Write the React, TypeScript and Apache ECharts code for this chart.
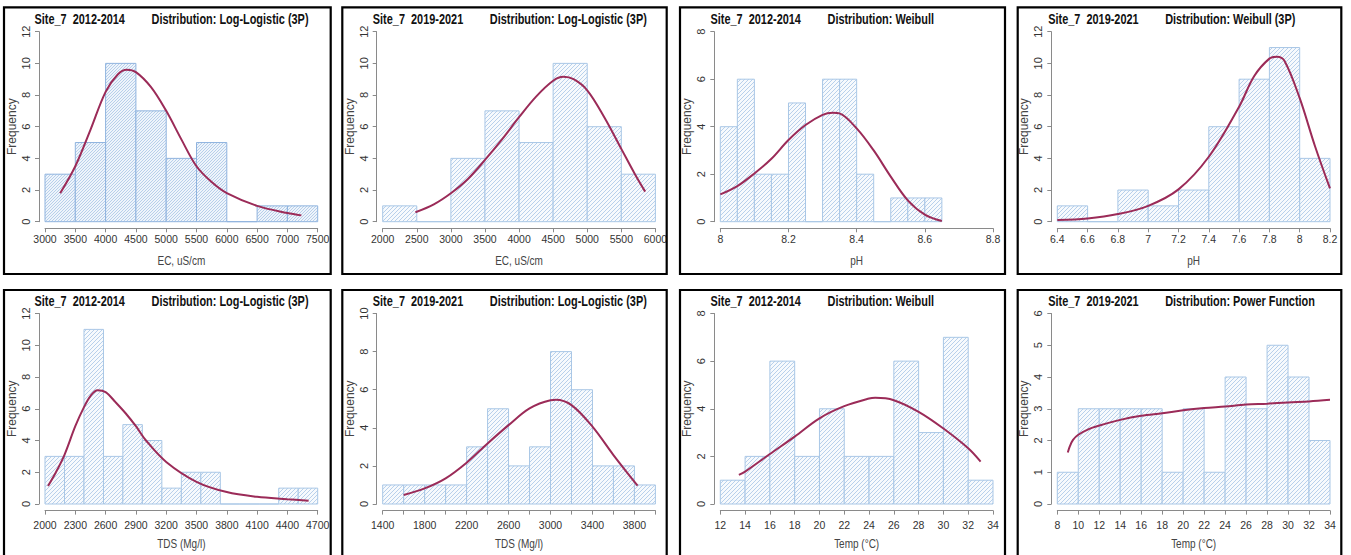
import React, { useEffect, useRef } from "react";
import * as echarts from "echarts";

const SANS = "'Liberation Sans', Arial, Helvetica, sans-serif";

// ---------- titles ----------
const siteLabels = ["Site_7  2012-2014", "Site_7  2019-2021", "Site_7  2012-2014", "Site_7  2019-2021",
  "Site_7  2012-2014", "Site_7  2019-2021", "Site_7  2012-2014", "Site_7  2019-2021"];
const distLabels = ["Distribution: Log-Logistic (3P)", "Distribution: Log-Logistic (3P)", "Distribution: Weibull",
  "Distribution: Weibull (3P)", "Distribution: Log-Logistic (3P)", "Distribution: Log-Logistic (3P)",
  "Distribution: Weibull", "Distribution: Power Function"];
const xNames = ["EC, uS/cm", "EC, uS/cm", "pH", "pH", "TDS (Mg/l)", "TDS (Mg/l)", "Temp (°C)", "Temp (°C)"];
const yName = "Frequency";

// ---------- panel 1: EC 2012-2014 ----------
const p1Edges = [3000, 3500, 4000, 4500, 5000, 5500, 6000, 6500, 7000, 7500];
const p1Counts = [3, 5, 10, 7, 4, 5, 0, 1, 1];
const p1CurveX = [3250, 3500, 3750, 4000, 4200, 4350, 4500, 4750, 5000, 5250, 5500, 5750, 6000, 6500, 7000, 7230];
const p1CurveY = [1.8, 3.5, 5.8, 8.2, 9.3, 9.6, 9.45, 8.5, 7.0, 5.2, 3.5, 2.5, 1.8, 1.0, 0.55, 0.4];
const p1XTicks = [3000, 3500, 4000, 4500, 5000, 5500, 6000, 6500, 7000, 7500];
const p1YTicks = [0, 2, 4, 6, 8, 10, 12];

// ---------- panel 2: EC 2019-2021 ----------
const p2Edges = [2000, 2500, 3000, 3500, 4000, 4500, 5000, 5500, 6000];
const p2Counts = [1, 0, 4, 7, 5, 10, 6, 3];
const p2CurveX = [2480, 2750, 3000, 3250, 3500, 3750, 4000, 4250, 4500, 4650, 4800, 5000, 5250, 5500, 5700, 5850];
const p2CurveY = [0.6, 1.1, 1.8, 2.7, 3.9, 5.2, 6.6, 7.9, 8.9, 9.15, 9.0, 8.3, 6.6, 4.6, 3.0, 1.9];
const p2XTicks = [2000, 2500, 3000, 3500, 4000, 4500, 5000, 5500, 6000];
const p2YTicks = [0, 2, 4, 6, 8, 10, 12];

// ---------- panel 3: pH 2012-2014 ----------
const p3Edges = [8.0, 8.05, 8.1, 8.15, 8.2, 8.25, 8.3, 8.35, 8.4, 8.45, 8.5, 8.55, 8.6, 8.65];
const p3Counts = [4, 6, 2, 2, 5, 0, 6, 6, 2, 0, 1, 1, 1];
const p3CurveX = [8.0, 8.05, 8.1, 8.15, 8.2, 8.25, 8.3, 8.33, 8.35, 8.4, 8.45, 8.5, 8.55, 8.6, 8.65];
const p3CurveY = [1.15, 1.5, 2.03, 2.65, 3.44, 4.07, 4.5, 4.59, 4.56, 3.93, 3.0, 1.9, 0.9, 0.3, 0.03];
const p3XTicks = [8, 8.2, 8.4, 8.6, 8.8];
const p3YTicks = [0, 2, 4, 6, 8];

// ---------- panel 4: pH 2019-2021 ----------
const p4Edges = [6.4, 6.6, 6.8, 7.0, 7.2, 7.4, 7.6, 7.8, 8.0, 8.2];
const p4Counts = [1, 0, 2, 1, 2, 6, 9, 11, 4];
const p4CurveX = [6.4, 6.6, 6.8, 7.0, 7.2, 7.4, 7.6, 7.7, 7.8, 7.85, 7.9, 8.0, 8.1, 8.2];
const p4CurveY = [0.1, 0.2, 0.48, 1.0, 2.04, 4.1, 7.26, 9.2, 10.3, 10.42, 10.15, 7.8, 4.8, 2.1];
const p4XTicks = [6.4, 6.6, 6.8, 7.0, 7.2, 7.4, 7.6, 7.8, 8.0, 8.2];
const p4YTicks = [0, 2, 4, 6, 8, 10, 12];

// ---------- panel 5: TDS 2012-2014 ----------
const p5Edges = [2000, 2193, 2386, 2579, 2771, 2964, 3157, 3350, 3543, 3736, 3929, 4121, 4314, 4507, 4700];
const p5Counts = [3, 3, 11, 3, 5, 4, 1, 2, 2, 0, 0, 0, 1, 1];
const p5CurveX = [2030, 2100, 2193, 2300, 2386, 2450, 2520, 2600, 2700, 2800, 2900, 3000, 3200, 3500, 3800, 4100, 4400, 4610];
const p5CurveY = [1.13, 1.9, 3.1, 4.9, 6.1, 6.8, 7.17, 7.05, 6.4, 5.7, 4.9, 4.0, 2.65, 1.4, 0.75, 0.45, 0.3, 0.2];
const p5XTicks = [2000, 2300, 2600, 2900, 3200, 3500, 3800, 4100, 4400, 4700];
const p5YTicks = [0, 2, 4, 6, 8, 10, 12];

// ---------- panel 6: TDS 2019-2021 ----------
const p6Edges = [1400, 1600, 1800, 2000, 2200, 2400, 2600, 2800, 3000, 3200, 3400, 3600, 3800, 4000];
const p6Counts = [1, 1, 1, 1, 3, 5, 2, 3, 8, 6, 2, 2, 1];
const p6CurveX = [1600, 1800, 2000, 2200, 2400, 2600, 2800, 3000, 3050, 3200, 3400, 3600, 3830];
const p6CurveY = [0.47, 0.82, 1.35, 2.17, 3.18, 4.14, 5.02, 5.45, 5.47, 5.19, 4.06, 2.57, 0.96];
const p6XTicks = [1400, 1600, 1800, 2000, 2200, 2400, 2600, 2800, 3000, 3200, 3400, 3600, 3800, 4000];
const p6XLabels = [1400, 1800, 2200, 2600, 3000, 3400, 3800];
const p6YTicks = [0, 2, 4, 6, 8, 10];

// ---------- panel 7: Temp 2012-2014 ----------
const p7Edges = [12, 14, 16, 18, 20, 22, 24, 26, 28, 30, 32, 34];
const p7Counts = [1, 2, 6, 2, 4, 2, 2, 6, 3, 7, 1];
const p7CurveX = [13.5, 14, 16, 18, 20, 22, 24, 24.5, 26, 28, 30, 32, 33];
const p7CurveY = [1.22, 1.36, 2.1, 2.83, 3.6, 4.11, 4.43, 4.46, 4.36, 3.87, 3.17, 2.34, 1.78];
const p7XTicks = [12, 14, 16, 18, 20, 22, 24, 26, 28, 30, 32, 34];
const p7YTicks = [0, 2, 4, 6, 8];

// ---------- panel 8: Temp 2019-2021 ----------
const p8Edges = [8, 10, 12, 14, 16, 18, 20, 22, 24, 26, 28, 30, 32, 34];
const p8Counts = [1, 3, 3, 3, 3, 1, 3, 1, 4, 3, 5, 4, 2];
const p8CurveX = [9.0, 9.2, 9.5, 10, 11, 12, 14, 16, 18, 20, 22, 24, 26, 28, 30, 32, 34];
const p8CurveY = [1.62, 1.82, 2.02, 2.18, 2.36, 2.47, 2.65, 2.78, 2.86, 2.95, 3.02, 3.07, 3.13, 3.16, 3.2, 3.23, 3.28];
const p8XTicks = [8, 10, 12, 14, 16, 18, 20, 22, 24, 26, 28, 30, 32, 34];
const p8YTicks = [0, 1, 2, 3, 4, 5, 6];

const panels = [
  { edges: p1Edges, counts: p1Counts, cx: p1CurveX, cy: p1CurveY, xt: p1XTicks, xl: p1XTicks, yt: p1YTicks },
  { edges: p2Edges, counts: p2Counts, cx: p2CurveX, cy: p2CurveY, xt: p2XTicks, xl: p2XTicks, yt: p2YTicks },
  { edges: p3Edges, counts: p3Counts, cx: p3CurveX, cy: p3CurveY, xt: p3XTicks, xl: p3XTicks, yt: p3YTicks },
  { edges: p4Edges, counts: p4Counts, cx: p4CurveX, cy: p4CurveY, xt: p4XTicks, xl: p4XTicks, yt: p4YTicks },
  { edges: p5Edges, counts: p5Counts, cx: p5CurveX, cy: p5CurveY, xt: p5XTicks, xl: p5XTicks, yt: p5YTicks },
  { edges: p6Edges, counts: p6Counts, cx: p6CurveX, cy: p6CurveY, xt: p6XTicks, xl: p6XLabels, yt: p6YTicks },
  { edges: p7Edges, counts: p7Counts, cx: p7CurveX, cy: p7CurveY, xt: p7XTicks, xl: p7XTicks, yt: p7YTicks },
  { edges: p8Edges, counts: p8Counts, cx: p8CurveX, cy: p8CurveY, xt: p8XTicks, xl: p8XTicks, yt: p8YTicks },
];

// ---------- layout ----------
const frameLefts = [4, 342.3, 680, 1017.7];
const frameRights = [330.7, 666.7, 1005, 1341.3];
const frameTops = [7.3, 290];
const frameBottoms = [274, 600];
const gridLefts = [45, 382.7, 720.3, 1057.3];
const gridTops = [31.7, 313.5];
const gridH = [190, 190.5];
const gridW = 272.7;
const xNameY = [260.5, 544];
const titleY = [20, 301.5];
const SQUEEZE = 0.78;

const CURVE = "#9b2b58";
const EDGE = "#a9c7e6";

function hatch(size: number, color: string, bg: string, w: number) {
  const s = size;
  const svg = `<svg xmlns='http://www.w3.org/2000/svg' width='${s}' height='${s}'><rect width='${s}' height='${s}' fill='${bg}'/><path d='M0 ${s} L${s} 0 M-1 1 L1 -1 M${s - 1} ${s + 1} L${s + 1} ${s - 1}' stroke='${color}' stroke-width='${w}'/></svg>`;
  return {
    image: "data:image/svg+xml;charset=utf-8," + encodeURIComponent(svg),
    repeat: "repeat",
    imageWidth: s,
    imageHeight: s,
  } as any;
}

export default function App() {
  const ref = useRef<HTMLDivElement>(null);
  useEffect(() => {
    if (!ref.current) return;
    const chart = echarts.init(ref.current, null, { renderer: "svg" });
    const pat = hatch(4, "#a8c5e6", "#f7fafd", 0.8);
    const patDense = hatch(3, "#9fbfe3", "#eef4fb", 0.7);

    const grid: any[] = [];
    const xAxis: any[] = [];
    const yAxis: any[] = [];
    const series: any[] = [];
    const graphic: any[] = [];

    panels.forEach((p, i) => {
      const row = i < 4 ? 0 : 1;
      const col = i % 4;
      grid.push({
        left: gridLefts[col],
        top: gridTops[row],
        width: gridW,
        height: gridH[row],
        containLabel: false,
        outerBoundsMode: "none",
      });
      xAxis.push({
        type: "value",
        gridIndex: i,
        min: p.xt[0],
        max: p.xt[p.xt.length - 1],
        offset: 6.6,
        axisLine: { show: true, onZero: false, lineStyle: { color: "#8a8a8a", width: 1 } },
        axisTick: { show: true, length: 4, customValues: p.xt, lineStyle: { color: "#8a8a8a" } },
        axisLabel: {
          show: true,
          customValues: p.xl,
          formatter: (v: number) => String(Math.round(v * 100) / 100),
          margin: row === 0 ? 5 : 9,
          fontFamily: SANS,
          fontSize: 10.5,
          color: "#333",
          hideOverlap: false,
          showMinLabel: true,
          showMaxLabel: true,
        },
        splitLine: { show: false },
      });
      yAxis.push({
        type: "value",
        gridIndex: i,
        min: p.yt[0],
        max: p.yt[p.yt.length - 1],
        offset: 6,
        name: yName,
        nameLocation: "middle",
        nameGap: 21,
        nameMoveOverlap: false,
        nameTextStyle: { fontFamily: SANS, fontSize: 12, color: "#444" },
        axisLine: { show: true, onZero: false, lineStyle: { color: "#8a8a8a", width: 1 } },
        axisTick: { show: true, length: 4, customValues: p.yt, lineStyle: { color: "#8a8a8a" } },
        axisLabel: {
          show: true,
          customValues: p.yt,
          formatter: (v: number) => String(v),
          rotate: 90,
          margin: 7.5,
          fontFamily: SANS,
          fontSize: 11,
          color: "#333",
          showMinLabel: true,
          showMaxLabel: true,
        },
        splitLine: { show: false },
      });
      const binData = p.counts.map((c, k) => [p.edges[k], p.edges[k + 1], c]);
      const fill = i === 0 ? patDense : pat;
      const edge = i === 0 ? "#8fb3de" : EDGE;
      series.push({
        type: "custom",
        xAxisIndex: i,
        yAxisIndex: i,
        data: binData,
        encode: { x: [0, 1], y: 2 },
        renderItem: (params: any, api: any) => {
          const a = api.coord([api.value(0), 0]);
          const b = api.coord([api.value(1), api.value(2)]);
          return {
            type: "rect",
            shape: { x: a[0], y: b[1], width: b[0] - a[0], height: a[1] - b[1] },
            style: { fill, stroke: edge, lineWidth: 1 },
          };
        },
        silent: true,
        z: 2,
      });
      series.push({
        type: "line",
        xAxisIndex: i,
        yAxisIndex: i,
        data: p.cx.map((x, k) => [x, p.cy[k]]),
        smooth: 0.35,
        showSymbol: false,
        symbol: "none",
        lineStyle: { color: CURVE, width: 2 },
        silent: true,
        z: 5,
      });
      // frame
      graphic.push({
        type: "rect",
        shape: {
          x: frameLefts[col],
          y: frameTops[row],
          width: frameRights[col] - frameLefts[col],
          height: frameBottoms[row] - frameTops[row],
        },
        style: { fill: "none", stroke: "#000", lineWidth: 2.2 },
        silent: true,
        z: 100,
      });
      const ty = titleY[row];
      const titleStyle = {
        fontFamily: SANS,
        fontWeight: "bold",
        fontSize: 14,
        fill: "#111",
        verticalAlign: "middle",
        align: "left",
      };
      graphic.push({
        type: "text",
        x: frameLefts[col] + 30.5,
        y: ty,
        scaleX: SQUEEZE,
        style: { ...titleStyle, text: siteLabels[i] },
        silent: true,
        z: 100,
      });
      graphic.push({
        type: "text",
        x: frameLefts[col] + 147.5,
        y: ty,
        scaleX: SQUEEZE,
        style: { ...titleStyle, text: distLabels[i] },
        silent: true,
        z: 100,
      });
      // x-axis title
      graphic.push({
        type: "text",
        x: gridLefts[col] + gridW / 2,
        y: xNameY[row],
        scaleX: 0.8,
        style: {
          text: xNames[i],
          fontFamily: SANS,
          fontSize: 12.5,
          fill: "#444",
          align: "center",
          verticalAlign: "middle",
        },
        silent: true,
        z: 100,
      });
    });

    chart.setOption({
      animation: false,
      backgroundColor: "#ffffff",
      grid,
      xAxis,
      yAxis,
      series,
      graphic: { elements: graphic },
    });
    return () => chart.dispose();
  }, []);

  return (
    <div
      ref={ref}
      style={{ position: "absolute", left: 0, top: 0, width: 1351, height: 555, background: "#fff" }}
    />
  );
}
